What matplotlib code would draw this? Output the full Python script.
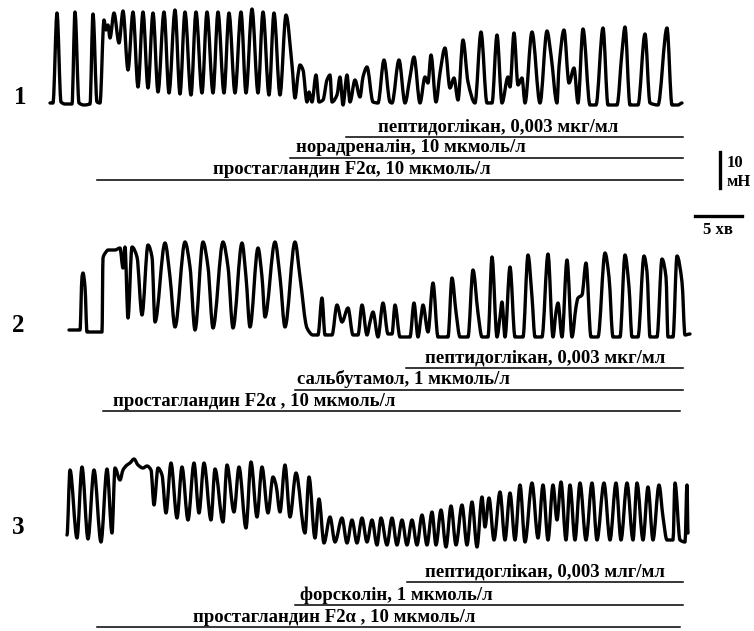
import matplotlib
matplotlib.use("Agg")
import matplotlib.pyplot as plt
from matplotlib.path import Path
from matplotlib.patches import PathPatch
import numpy as np

# chart units: 1 unit of time/force = 1 unit of the recording paper
# (5 min = 47 units, 10 mN = 36 units), heights measured from each baseline

# trace 1: prostaglandin F2a -> noradrenaline -> peptidoglycan
t1 = [50, 53, 57, 61, 65, 72, 75, 79, 84, 90, 93, 97, 100, 104, 106, 108, 110, 114, 119, 123,
      128, 133, 138, 143, 148, 153, 158, 164, 169, 175, 180, 185, 191, 196, 202, 207, 213, 218,
      224, 229, 235, 241, 246, 252, 258, 263, 269, 274, 280, 286, 292, 295, 298, 300, 303, 307,
      309, 312, 316, 319, 323, 327, 330, 332, 337, 340, 343, 347, 350, 355, 360, 363, 367, 373,
      378, 384, 390, 392, 399, 405, 410, 414, 420, 425, 428, 431, 436, 440, 445, 450, 454, 458,
      463, 468, 475, 481, 487, 492, 497, 502, 508, 510, 514, 518, 522, 525, 532, 540, 547, 551,
      557, 559, 564, 569, 574, 578, 583, 590, 596, 603, 608, 617, 622, 625, 630, 638, 645, 650,
      658, 667, 672, 678, 682]
f1 = [2, 2, 92, 3, 1, 1, 93, 2, 0, 1, 91, 3, 2, 85, 75, 80, 67, 92, 62, 94,
      35, 93, 18, 93, 17, 92, 13, 93, 12, 95, 11, 93, 10, 93, 12, 93, 12, 93,
      12, 92, 12, 93, 12, 96, 12, 93, 10, 92, 10, 90, 40, 7, 30, 40, 35, 3,
      13, 3, 30, 3, 5, 25, 30, 3, 10, 28, 0, 30, 3, 25, 8, 28, 38, 3,
      2, 45, 3, 2, 45, 2, 28, 48, 2, 28, 22, 50, 3, 32, 57, 17, 27, 5,
      65, 23, 2, 73, 2, 2, 70, 2, 28, 18, 72, 20, 27, 2, 73, 2, 74, 50,
      2, 38, 75, 22, 37, 2, 76, 0, 0, 77, 0, 0, 53, 78, 0, 0, 71, 2,
      0, 77, 0, 0, 2]

# trace 2: prostaglandin F2a -> salbutamol -> peptidoglycan
t2 = [69, 80, 82, 83, 85, 87, 102, 103, 106, 108, 115, 120, 123, 125, 128, 132, 137, 142, 148,
      152, 155, 165, 170, 175, 185, 190, 195, 203, 208, 213, 223, 228, 233, 242, 246, 250, 258,
      262, 265, 275, 280, 285, 295, 300, 307, 313, 318, 322, 325, 332, 337, 342, 348, 353, 358,
      362, 367, 370, 373, 378, 383, 388, 392, 395, 400, 410, 414, 418, 421, 423, 428, 433, 438,
      448, 452, 456, 460, 468, 473, 478, 482, 488, 492, 497, 500, 502, 505, 510, 515, 523, 528,
      532, 535, 542, 548, 553, 556, 558, 562, 567, 572, 576, 578, 582, 586, 591, 598, 605, 609,
      613, 620, 625, 629, 632, 638, 644, 647, 650, 657, 662, 666, 668, 673, 677, 682, 685, 690]
f2 = [7, 7, 60, 64, 50, 5, 5, 79, 85, 87, 87, 89, 69, 90, 19, 90, 80, 22, 92,
      80, 15, 94, 60, 10, 95, 70, 7, 95, 70, 9, 95, 70, 9, 94, 60, 10, 89,
      60, 20, 95, 60, 10, 95, 60, 9, 2, 2, 39, 2, 2, 32, 15, 29, 2, 2,
      32, 2, 15, 25, 0, 34, 3, 3, 32, 0, 0, 34, 0, 20, 32, 5, 54, 0,
      0, 59, 25, 0, 0, 67, 24, 0, 0, 80, 0, 20, 35, 0, 70, 0, 0, 82,
      40, 0, 0, 83, 0, 25, 34, 0, 77, 0, 30, 39, 42, 74, 0, 0, 84, 60,
      0, 0, 82, 50, 0, 0, 81, 65, 0, 0, 78, 60, 0, 0, 81, 55, 2, 3]

# trace 3: prostaglandin F2a -> forskolin -> peptidoglycan
t3 = [67, 70, 77, 82, 88, 94, 101, 107, 112, 115, 120, 123, 127, 130, 134, 138, 143, 147, 151,
      154, 158, 162, 166, 171, 177, 182, 188, 194, 199, 204, 211, 215, 223, 227, 234, 239, 246,
      251, 257, 262, 268, 273, 276, 280, 285, 290, 296, 305, 309, 315, 319, 324, 330, 335, 342,
      347, 352, 357, 362, 367, 372, 377, 381, 387, 392, 397, 402, 407, 412, 417, 422, 427, 432,
      436, 441, 446, 451, 456, 462, 467, 472, 477, 482, 485, 489, 494, 500, 505, 510, 515, 520,
      525, 532, 538, 543, 548, 553, 557, 561, 566, 570, 575, 580, 586, 592, 597, 604, 610, 616,
      621, 627, 633, 637, 643, 648, 653, 659, 663, 667, 673, 675, 680, 685, 687, 688]
f3 = [10, 75, 7, 78, 6, 75, 3, 76, 12, 77, 65, 75, 80, 82, 86, 80, 77, 79, 75,
      40, 77, 70, 32, 82, 27, 78, 25, 82, 32, 82, 25, 76, 23, 80, 33, 78, 17,
      83, 28, 78, 32, 68, 60, 33, 80, 28, 72, 12, 68, 7, 46, 2, 28, 3, 27,
      2, 25, 2, 27, 3, 25, 0, 27, 0, 27, 0, 25, 0, 25, 0, 30, 0, 33,
      0, 35, -2, 39, 0, 40, 0, 43, -2, 48, 18, 47, 5, 53, 5, 52, 5, 60,
      3, 62, 7, 60, 5, 60, 25, 63, 5, 60, 5, 62, 5, 62, 5, 62, 5, 62,
      5, 62, 5, 62, 5, 58, 5, 60, 28, 5, 5, 62, 5, 3, 60, 12]

traces = [(t1, f1), (t2, f2), (t3, f3)]
trace_labels = ["1", "2", "3"]

# treatments: text, start of application, end of record
drugs = [
    [("пептидоглікан, 0,003 мкг/мл", 346, 683),
     ("норадреналін, 10 мкмоль/л", 290, 683),
     ("простагландин F2\u03b1, 10 мкмоль/л", 97, 683)],
    [("пептидоглікан, 0,003 мкг/мл", 406, 683),
     ("сальбутамол, 1 мкмоль/л", 295, 683),
     ("простагландин F2\u03b1 , 10 мкмоль/л", 103, 680)],
    [("пептидоглікан, 0,003 млг/мл", 407, 683),
     ("форсколін, 1 мкмоль/л", 295, 683),
     ("простагландин F2\u03b1 , 10 мкмоль/л", 97, 680)],
]

# layout (pixels of the figure)
baselines = [105, 337, 545]
label_pos = [(20, 97), (18, 325), (18, 527)]
row_y = [[137, 158, 180], [368, 390, 411], [582, 605, 627]]
text_x = [[378, 296, 213], [425, 297, 113], [425, 300, 193]]


# pen-recorder look: cubic Bezier path through the read points,
# flat tangent at every turning point so the peaks come out rounded
def pen_path(x, y):
    x = np.asarray(x, float)
    y = np.asarray(y, float)
    d = np.diff(y) / np.diff(x)
    m = np.zeros_like(x)
    for k in range(1, len(x) - 1):
        if d[k - 1] * d[k] > 0:
            m[k] = 2.0 / (1.0 / d[k - 1] + 1.0 / d[k])
    verts = [(x[0], y[0])]
    codes = [Path.MOVETO]
    for k in range(len(x) - 1):
        h = (x[k + 1] - x[k]) / 3.0
        verts += [(x[k] + h, y[k] + m[k] * h),
                  (x[k + 1] - h, y[k + 1] - m[k + 1] * h),
                  (x[k + 1], y[k + 1])]
        codes += [Path.CURVE4] * 3
    return Path(verts, codes)


fig = plt.figure(figsize=(7.54, 6.31), dpi=100)
ax = fig.add_axes([0, 0, 1, 1])
ax.set_xlim(0, 754)
ax.set_ylim(631, 0)
ax.axis('off')

serif = "Liberation Serif"

for i, (t, f) in enumerate(traces):
    y = baselines[i] - np.array(f)
    ax.add_patch(PathPatch(pen_path(t, y), fill=False, edgecolor='black', lw=2.4,
                           joinstyle='round', capstyle='round'))
    ax.text(label_pos[i][0], label_pos[i][1], trace_labels[i], fontsize=18,
            family=serif, fontweight='bold', ha='center', va='center')
    for j, (txt, x0, x1) in enumerate(drugs[i]):
        ly = row_y[i][j]
        ax.plot([x0, x1], [ly, ly], color='black', lw=1.1)
        ax.text(text_x[i][j], ly - 1.5, txt, fontsize=13.5, family=serif,
                fontweight='bold', ha='left', va='bottom')

# scale bars
ax.plot([720, 720], [152, 188], color='black', lw=2.4)
ax.text(727, 171, "10", fontsize=12, family=serif, fontweight='bold', ha='left', va='bottom')
ax.text(727, 190, "мН", fontsize=12, family=serif, fontweight='bold', ha='left', va='bottom')
ax.plot([695, 742], [216, 216], color='black', lw=2.4)
ax.text(718, 230, "5 хв", fontsize=12, family=serif, fontweight='bold', ha='center', va='center')

fig.savefig("out.png", dpi=100)
